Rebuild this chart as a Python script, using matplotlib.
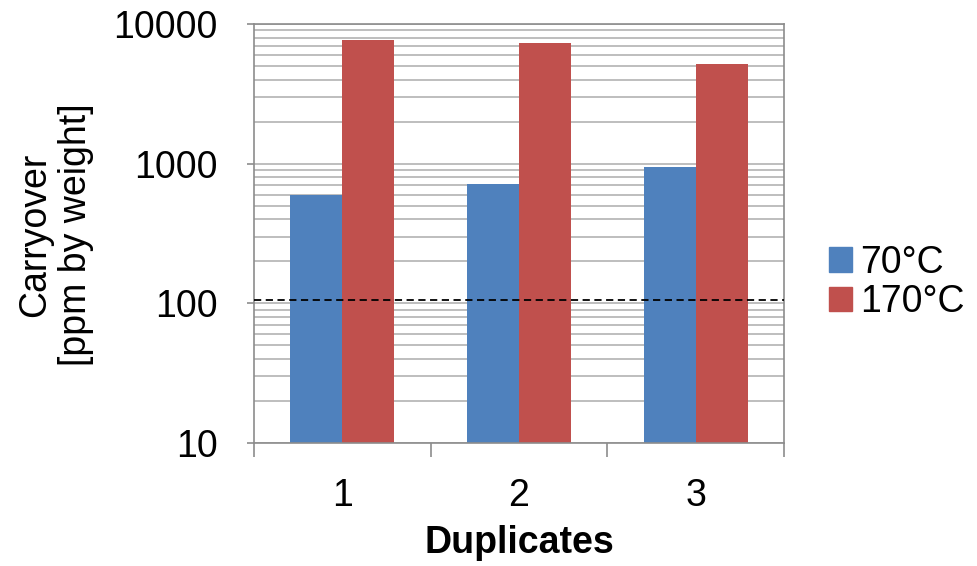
import numpy as np
import matplotlib.pyplot as plt
from matplotlib.patches import Patch

plt.rcParams['font.family'] = ['Liberation Sans', 'DejaVu Sans']

duplicates = ['1', '2', '3']
series_names = ['70°C', '170°C']
carryover_70 = [601, 713, 948]
carryover_170 = [7680, 7275, 5165]
limit = 106

blue = '#4F81BD'
red = '#C0504D'
grid_col = '#B3B3B3'
fs = 27

fig = plt.figure(figsize=(9.77, 5.66), dpi=100)
ax = fig.add_axes([0.26, 0.2173, 0.5425, 0.7403])

x = np.arange(len(duplicates))
w = 1 / 1.7 / 2
ax.bar(x - w / 2, carryover_70, width=w, color=blue, zorder=2)
ax.bar(x + w / 2, carryover_170, width=w, color=red, zorder=2)

ax.set_yscale('log')
ax.set_ylim(10, 10000)
ax.set_xlim(-0.5, len(duplicates) - 0.5)

ax.axhline(limit, color='black', lw=1.3, ls=(0, (4, 2.5)), zorder=3)

ax.grid(True, which='both', axis='y', color=grid_col, lw=1.2, zorder=0)
for s in ax.spines.values():
    s.set_color('#8C8C8C')
    s.set_linewidth(1.2)

ax.set_yticks([10, 100, 1000, 10000])
ax.set_yticklabels(['10', '100', '1000', '10000'])
ax.tick_params(axis='y', which='minor', length=0)
ax.tick_params(axis='y', which='major', length=5, color='#8C8C8C', width=1.2,
               labelsize=fs, pad=21)

# category labels centered, ticks on category boundaries
ax.set_xticks(x)
ax.set_xticklabels(duplicates)
ax.set_xticks(np.arange(len(duplicates) + 1) - 0.5, minor=True)
ax.tick_params(axis='x', which='major', length=0, labelsize=fs, pad=25)
ax.tick_params(axis='x', which='minor', length=10, color='#8C8C8C', width=1.2)

ax.set_xlabel('Duplicates', fontsize=fs, fontweight='bold', labelpad=8)
fig.text(0.057, 0.585, 'Carryover\n[ppm by weight]', rotation=90, fontsize=fs,
         ha='center', va='center', linespacing=1.15)

handles = [Patch(color=blue), Patch(color=red)]
fig.legend(handles, series_names, loc='center left', bbox_to_anchor=(0.8485, 0.501),
           frameon=False, fontsize=fs, handlelength=0.62, handleheight=0.62,
           handletextpad=0.2, labelspacing=0.1, borderaxespad=0, borderpad=0)

fig.savefig('out.png', dpi=100)
